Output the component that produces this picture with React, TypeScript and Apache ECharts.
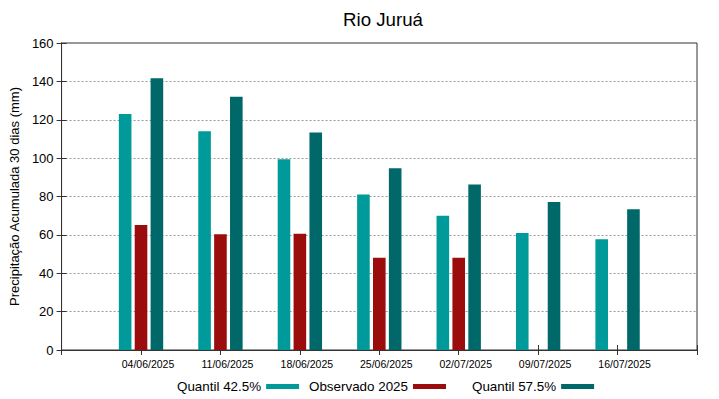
import React, { useEffect, useRef } from "react";
import * as echarts from "echarts";

const dates = ["04/06/2025", "11/06/2025", "18/06/2025", "25/06/2025", "02/07/2025", "09/07/2025", "16/07/2025"];
const quantil425 = [123, 114, 99.4, 81, 70, 61, 57.7];
const observado2025: (number | null)[] = [65.1, 60.3, 60.6, 48.1, 48.1, null, null];
const quantil575 = [141.6, 132, 113.4, 94.7, 86.3, 77.1, 73.3];
const yTicks = [0, 20, 40, 60, 80, 100, 120, 140, 160];

const FONT = "Liberation Sans";

export default function App() {
  const ref = useRef<HTMLDivElement>(null);
  useEffect(() => {
    if (!ref.current) return;
    const chart = echarts.init(ref.current, undefined, { renderer: "svg" });
    const toPairs = (arr: (number | null)[]) =>
      arr.map((v, i) => (v == null ? null : [i + 1, v])).filter((d) => d !== null);
    const names = ["Quantil 42.5%", "Observado 2025", "Quantil 57.5%"];
    const colors = ["#009a9a", "#9b0d0d", "#006868"];
    const legendLefts = [177, 309, 472];
    chart.setOption({
      animation: false,
      textStyle: { fontFamily: FONT },
      title: {
        text: "Rio Juruá",
        left: 378,
        textAlign: "center",
        top: 5,
        textStyle: { fontFamily: FONT, fontSize: 18.7, fontWeight: "normal", color: "#000" },
      },
      legend: names.map((n, i) => ({
        data: [n],
        left: legendLefts[i],
        top: 380,
        align: "right",
        icon: "rect",
        itemWidth: 33,
        itemHeight: 5,
        padding: 0,
        textStyle: { fontFamily: FONT, fontSize: 13.4, color: "#000" },
      })),
      grid: {
        left: 59,
        right: 22,
        top: 43,
        bottom: 49,
        show: true,
        borderColor: "#333",
        borderWidth: 1,
      },
      xAxis: [
        {
          type: "value",
          min: 0,
          max: 8,
          interval: 1,
          axisLine: { show: true, lineStyle: { color: "#333" } },
          axisTick: { show: true, inside: true, length: 5, lineStyle: { color: "#333" } },
          splitLine: { show: false },
          axisLabel: {
            margin: 8,
            formatter: (v: number) => (v >= 1 && v <= dates.length ? `{a|${dates[v - 1]}}` : ""),
            rich: { a: { fontFamily: FONT, fontSize: 10.5, color: "#000", padding: [0, 0, 0, 14] } },
          },
        },
        {
          type: "value",
          position: "top",
          min: 0,
          max: 8,
          interval: 1,
          axisLine: { show: true, lineStyle: { color: "#333" } },
          axisTick: { show: true, inside: true, length: 5, lineStyle: { color: "#333" } },
          splitLine: { show: false },
          axisLabel: { show: false },
        },
      ],
      yAxis: [
        {
          type: "value",
          min: yTicks[0],
          max: yTicks[yTicks.length - 1],
          interval: 20,
          name: "Precipitação Acumulada 30 dias (mm)",
          nameLocation: "middle",
          nameGap: 36,
          nameTextStyle: { fontFamily: FONT, fontSize: 13, color: "#000" },
          axisLine: { show: true, lineStyle: { color: "#333" } },
          axisTick: { show: true, inside: true, length: 5, lineStyle: { color: "#333" } },
          axisLabel: { margin: 8, fontFamily: FONT, fontSize: 13, color: "#000" },
          splitLine: { show: true, lineStyle: { type: [2, 2], color: "#999", width: 1 } },
        },
        {
          type: "value",
          position: "right",
          min: yTicks[0],
          max: yTicks[yTicks.length - 1],
          interval: 20,
          axisLine: { show: true, lineStyle: { color: "#333" } },
          axisTick: { show: true, inside: true, length: 5, lineStyle: { color: "#333" } },
          axisLabel: { show: false },
          splitLine: { show: false },
        },
      ],
      series: [quantil425, observado2025, quantil575].map((arr, i) => ({
        name: names[i],
        type: "bar",
        xAxisIndex: 0,
        yAxisIndex: 0,
        barWidth: 12.6,
        barGap: "26%",
        itemStyle: { color: colors[i] },
        data: toPairs(arr),
      })),
    });
    return () => chart.dispose();
  }, []);
  return <div ref={ref} style={{ width: 719, height: 399, position: "absolute", left: 0, top: 0 }} />;
}
